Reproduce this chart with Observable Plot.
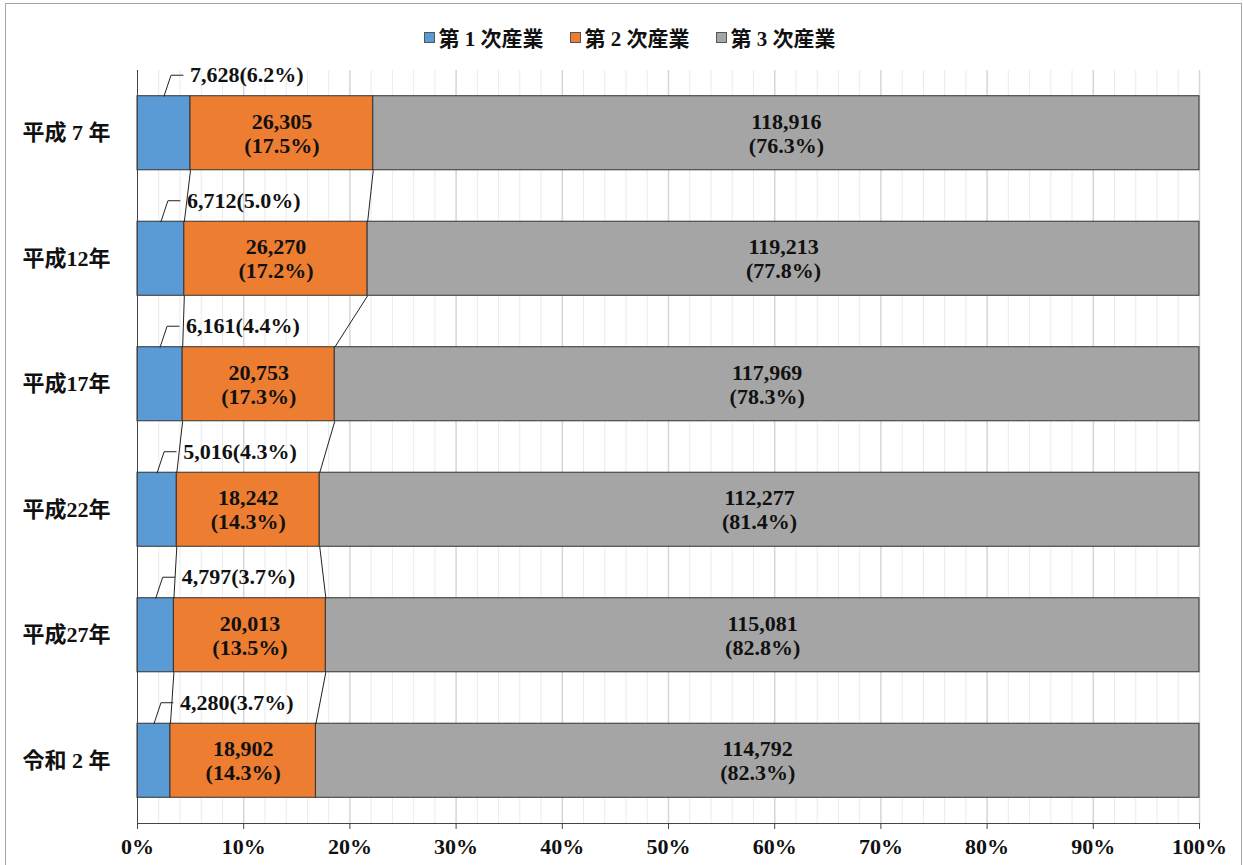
<!DOCTYPE html>
<html>
<head>
<meta charset="utf-8">
<script src="https://cdn.jsdelivr.net/npm/d3@7"></script>
<script src="https://cdn.jsdelivr.net/npm/@observablehq/plot@0.6"></script>
<style>
  html, body { margin: 0; padding: 0; background: #fff; overflow: hidden; }
  #frame { position: absolute; left: 5px; top: 3px; width: 1237px; height: 900px; border: 1px solid #a6a6a6; box-sizing: border-box; }
  #legend { position: absolute; left: 0; top: 24px; width: 1243px; height: 26px; display: flex; justify-content: center; align-items: center; gap: 26px;
    font-family: "Liberation Serif", "Noto Sans CJK JP", serif; font-weight: bold; font-size: 21px; color: #111; padding-left: 16px; box-sizing: border-box; }
  #legend .item { display: flex; align-items: center; gap: 4px; }
  #legend .sw { width: 11px; height: 11px; border: 1px solid #555; box-sizing: border-box; }
  #chart { position: absolute; left: 0; top: 60px; }
</style>
</head>
<body>
<div id="frame"></div>
<div id="legend"></div>
<div id="chart"></div>
<script>
// ---- data ----
const years = ["平成 7 年", "平成12年", "平成17年", "平成22年", "平成27年", "令和 2 年"];
const seriesNames = ["第 1 次産業", "第 2 次産業", "第 3 次産業"];
const seriesColors = ["#5B9BD5", "#ED7D31", "#A5A5A5"];
const primary   = [7628, 6712, 6161, 5016, 4797, 4280];
const secondary = [26305, 26270, 20753, 18242, 20013, 18902];
const tertiary  = [118916, 119213, 117969, 112277, 115081, 114792];
const primaryPct   = [6.2, 5.0, 4.4, 4.3, 3.7, 3.7];
const secondaryPct = [17.5, 17.2, 17.3, 14.3, 13.5, 14.3];
const tertiaryPct  = [76.3, 77.8, 78.3, 81.4, 82.8, 82.3];
const xTicks = [0, 10, 20, 30, 40, 50, 60, 70, 80, 90, 100];

// ---- layout ----
const W = 1243, H = 805, mL = 137, mR = 44, mT = 10, mB = 42;
const pxX = 100 / (W - mL - mR);          // x data units per px
const pxY = 6 / (H - mT - mB);            // y data units per px
const half = 0.295;                        // half bar thickness (band units)
const fmt = d3.format(",");
const FONT = '"Liberation Serif", "Noto Sans CJK JP", serif';
const FS = 22;

// ---- legend ----
const leg = document.getElementById("legend");
seriesNames.forEach((s, k) => {
  const it = document.createElement("div"); it.className = "item";
  const sw = document.createElement("div"); sw.className = "sw"; sw.style.background = seriesColors[k];
  const tx = document.createElement("span"); tx.textContent = s;
  it.appendChild(sw); it.appendChild(tx); leg.appendChild(it);
});

// ---- derived tables ----
const vals = [primary, secondary, tertiary];
const pcts = [primaryPct, secondaryPct, tertiaryPct];
const rows = years.map((y, i) => {
  const t = primary[i] + secondary[i] + tertiary[i];
  const c1 = primary[i] / t * 100, c2 = (primary[i] + secondary[i]) / t * 100;
  return {i, year: y, cuts: [0, c1, c2, 100]};
});
const segs = rows.flatMap(r => seriesNames.map((s, k) => ({
  i: r.i, series: s, x1: r.cuts[k], x2: r.cuts[k + 1],
  label: `${fmt(vals[k][r.i])}\n(${pcts[k][r.i].toFixed(1)}%)`
})));
const connectors = [];
for (let i = 0; i < rows.length - 1; i++) {
  for (const k of [1, 2]) {
    connectors.push({x1: rows[i].cuts[k], y1: i + half, x2: rows[i + 1].cuts[k], y2: i + 1 - half});
  }
}
const leaders = rows.flatMap(r => {
  const mid = r.cuts[1] / 2, top = r.i - half, up = top - 21 * pxY;
  return [
    {i: r.i, x: mid, y: top},
    {i: r.i, x: mid + 7 * pxX, y: up},
    {i: r.i, x: mid + 19 * pxX, y: up}
  ];
});
const primLabels = rows.map(r => ({
  x: r.cuts[1] / 2 + 26 * pxX, y: r.i - half - 21 * pxY,
  text: `${fmt(primary[r.i])}(${primaryPct[r.i].toFixed(1)}%)`
}));
const minorGrid = d3.range(2, 101, 2).filter(v => v % 10 !== 0);
const majorGrid = xTicks.filter(v => v > 0);

const chart = Plot.plot({
  width: W, height: H, marginLeft: mL, marginRight: mR, marginTop: mT, marginBottom: mB,
  style: {fontFamily: FONT, fontSize: FS + "px", fontWeight: "bold", color: "#111", background: "transparent", overflow: "visible"},
  x: {domain: [0, 100]},
  y: {domain: [-0.5, 5.5], reverse: true},
  color: {domain: seriesNames, range: seriesColors},
  marks: [
    Plot.ruleX(minorGrid, {stroke: "#ebebeb", strokeWidth: 1}),
    Plot.ruleX(majorGrid, {stroke: "#d6d6d6", strokeWidth: 1.5}),
    Plot.rect(segs, {x1: "x1", x2: "x2", y1: d => d.i - half, y2: d => d.i + half, fill: "series", stroke: "#333", strokeWidth: 1}),
    Plot.link(connectors, {x1: "x1", y1: "y1", x2: "x2", y2: "y2", stroke: "#222", strokeWidth: 1}),
    Plot.line(leaders, {x: "x", y: "y", z: "i", stroke: "#222", strokeWidth: 1}),
    Plot.text(primLabels, {x: "x", y: "y", text: "text", textAnchor: "start", fill: "#111", fontSize: FS}),
    Plot.text(segs.filter(d => d.series !== seriesNames[0]), {
      x: d => (d.x1 + d.x2) / 2, y: "i", text: "label", fill: "#111", fontSize: FS, lineHeight: 1.09
    }),
    Plot.ruleX([0], {stroke: "#444", strokeWidth: 1}),
    Plot.ruleY([5.5], {stroke: "#444", strokeWidth: 1}),
    Plot.axisX({ticks: xTicks, tickFormat: d => d + "%", tickSize: 6, tickPadding: 9, fontSize: FS, stroke: "#444", fill: "#111"}),
    Plot.axisY({ticks: d3.range(years.length), tickFormat: i => years[i], tickSize: 0, tickPadding: 27, fontSize: FS, fill: "#111"})
  ]
});
document.getElementById("chart").appendChild(chart);
</script>
</body>
</html>
